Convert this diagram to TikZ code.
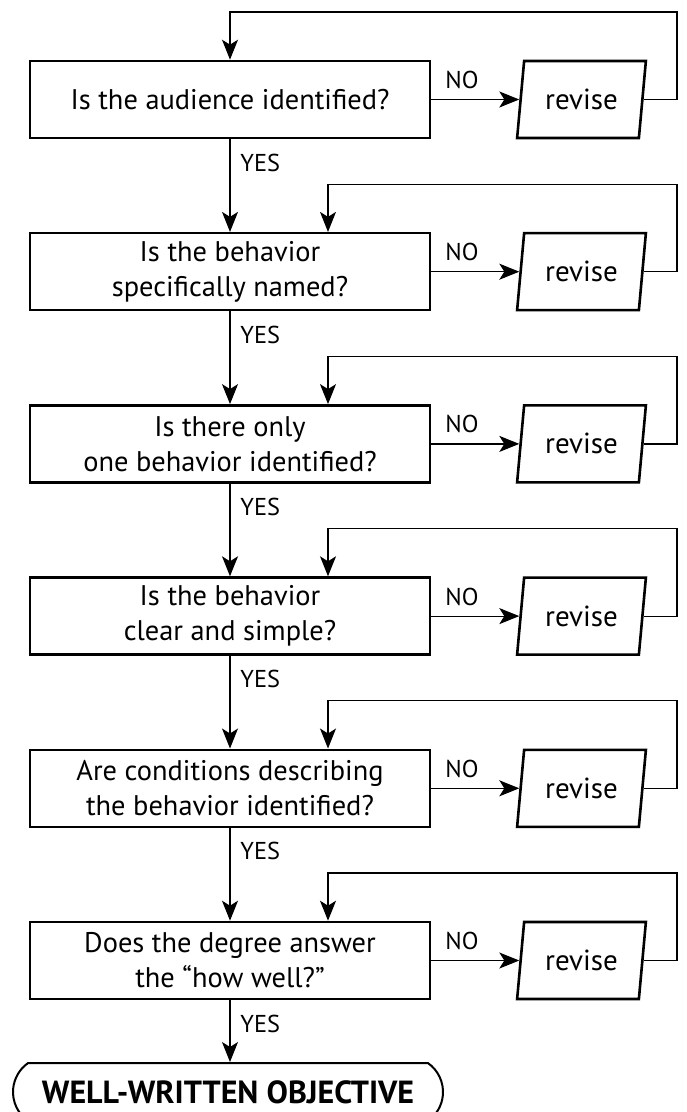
\documentclass[tikz,border=0pt]{standalone}
\usepackage{fontspec}
\setmainfont{PT Sans}
\usetikzlibrary{shapes.geometric,shapes.misc,arrows.meta}

\begin{document}
\begin{tikzpicture}[x=0.5pt,y=-0.5pt,
  question/.style={rectangle, draw=black, line width=1.3pt, minimum width=200pt, minimum height=38.5pt, inner sep=0pt, align=center, font=\fontsize{14.2}{17.5}\selectfont},
  revisebox/.style={trapezium, trapezium left angle=78, trapezium right angle=102, trapezium stretches=true, draw=black, line width=1.3pt, minimum width=64.5pt, minimum height=38.5pt, inner sep=0pt, font=\fontsize{14.5}{16}\selectfont},
  answer/.style={inner sep=0pt, font=\fontsize{12.2}{14}\selectfont},
  goal/.style={rounded rectangle, rounded rectangle arc length=110, draw=black, line width=1pt, minimum width=215pt, minimum height=29pt, inner sep=0pt, font=\bfseries\fontsize{16}{18}\selectfont},
  flow/.style={-{Stealth[length=10pt,width=8pt,inset=2.5pt]}, line width=0.6pt}]
\useasboundingbox (0,0) rectangle (686,1112);
\node [question] (q1) at (230,99.5) {Is the audience identified?};
\node [question] (q2) at (230,271.7) {Is the behavior\\specifically named?};
\node [question] (q3) at (230,443.9) {Is there only\\one behavior identified?};
\node [question] (q4) at (230,616.1) {Is the behavior\\clear and simple?};
\node [question] (q5) at (230,788.3) {Are conditions describing\\the behavior identified?};
\node [question] (q6) at (230,960.5) {Does the degree answer\\the “how well?”};
\node [goal] (obj) at (228,1092) {WELL-WRITTEN OBJECTIVE};
\node [revisebox] (r1) at (581.5,99.5) {revise};
\node [revisebox] (r2) at (581.5,271.7) {revise};
\node [revisebox] (r3) at (581.5,443.9) {revise};
\node [revisebox] (r4) at (581.5,616.1) {revise};
\node [revisebox] (r5) at (581.5,788.3) {revise};
\node [revisebox] (r6) at (581.5,960.5) {revise};
\node [answer, anchor=west] (no1) at (445,80) {NO};
\node [answer, anchor=west] (no2) at (445,252.2) {NO};
\node [answer, anchor=west] (no3) at (445,424.4) {NO};
\node [answer, anchor=west] (no4) at (445,596.6) {NO};
\node [answer, anchor=west] (no5) at (445,768.8) {NO};
\node [answer, anchor=west] (no6) at (445,941) {NO};
\node [answer, anchor=west] (yes1) at (240,162.5) {YES};
\node [answer, anchor=west] (yes2) at (240,334.7) {YES};
\node [answer, anchor=west] (yes3) at (240,506.9) {YES};
\node [answer, anchor=west] (yes4) at (240,679.1) {YES};
\node [answer, anchor=west] (yes5) at (240,851.3) {YES};
\node [answer, anchor=west] (yes6) at (240,1023.5) {YES};
\coordinate (top1) at (677,12);
\coordinate (top2) at (677,184.2);
\coordinate (top3) at (677,356.4);
\coordinate (top4) at (677,528.6);
\coordinate (top5) at (677,700.8);
\coordinate (top6) at (677,873);
% yes path
\draw [flow] (q1.south) -- (q2.north);
\draw [flow] (q2.south) -- (q3.north);
\draw [flow] (q3.south) -- (q4.north);
\draw [flow] (q4.south) -- (q5.north);
\draw [flow] (q5.south) -- (q6.north);
\draw [flow] (q6.south) -- (obj.north -| q6.south);
% no path
\draw [flow] (q1.east) -- (r1.left side);
\draw [flow] (q2.east) -- (r2.left side);
\draw [flow] (q3.east) -- (r3.left side);
\draw [flow] (q4.east) -- (r4.left side);
\draw [flow] (q5.east) -- (r5.left side);
\draw [flow] (q6.east) -- (r6.left side);
% back to the question
\draw [flow] (r1.right side) -| (top1) -| (q1.north);
\draw [flow] (r2.right side) -| (top2) -| ([xshift=49pt]q2.north);
\draw [flow] (r3.right side) -| (top3) -| ([xshift=49pt]q3.north);
\draw [flow] (r4.right side) -| (top4) -| ([xshift=49pt]q4.north);
\draw [flow] (r5.right side) -| (top5) -| ([xshift=49pt]q5.north);
\draw [flow] (r6.right side) -| (top6) -| ([xshift=49pt]q6.north);
\end{tikzpicture}
\end{document}
